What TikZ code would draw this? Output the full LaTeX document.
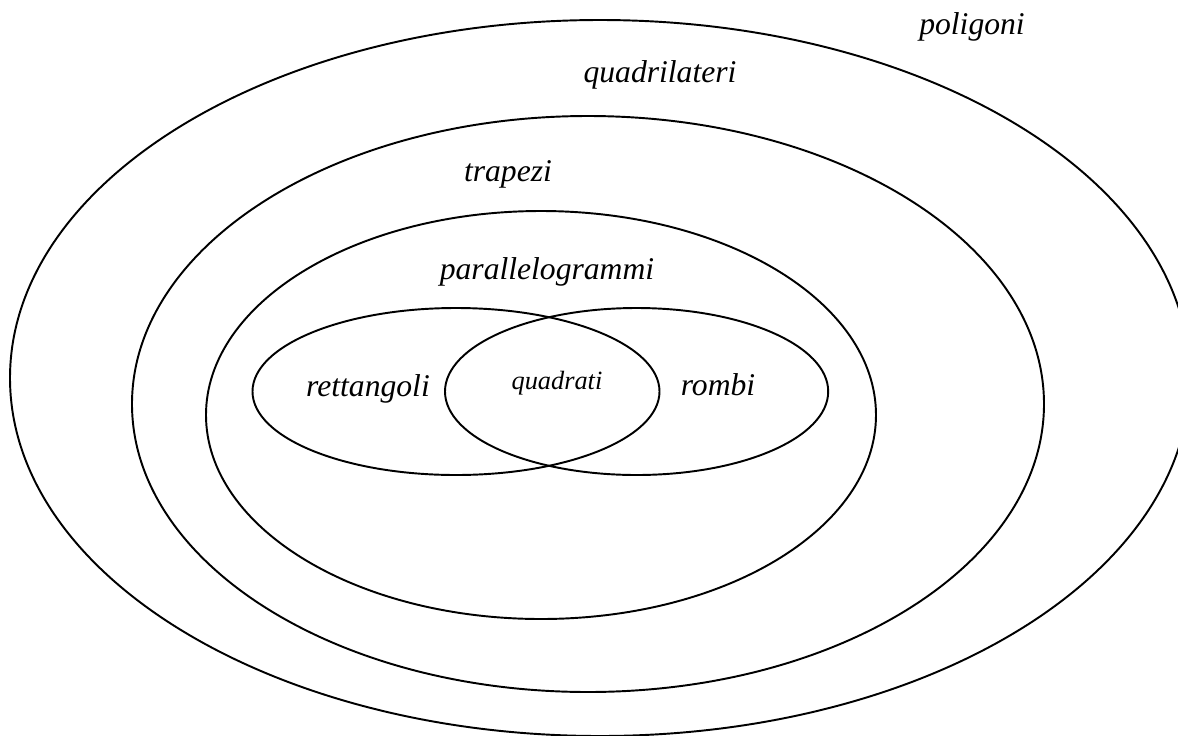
\documentclass[tikz,border=0pt]{standalone}
\usepackage{fontspec}
\setmainfont{Liberation Serif}
\tikzset{
  lab/.style={font=\itshape\fontsize{18}{22}\selectfont, anchor=base, inner sep=0pt},
  smalllab/.style={font=\itshape\fontsize{15}{18}\selectfont, anchor=base, inner sep=0pt}
}
\begin{document}
\begin{tikzpicture}[x=0.02cm,y=-0.02cm,line width=1.1pt]
  \useasboundingbox (0,0) rectangle (1178,735);
  \clip (0,0) rectangle (1178,735);
  \draw(600,378) ellipse (590 and 358);
  \draw(588,404) ellipse (456 and 288);
  \draw(541,415) ellipse (335 and 204);
  \draw(456,391.5) ellipse (203.5 and 83.5);
  \draw(636.6,391.5) ellipse (191.6 and 83.5);
  \node[lab] (poligoni) at (972,34.5) {poligoni};
  \node[lab] (quadrilateri) at (660,82.7) {quadrilateri};
  \node[lab] (trapezi) at (508,181) {trapezi};
  \node[lab] (parallelogrammi) at (547,279) {parallelogrammi};
  \node[lab] (rettangoli) at (368,396) {rettangoli};
  \node[smalllab] (quadrati) at (557,389) {quadrati};
  \node[lab] (rombi) at (718,395) {rombi};
\end{tikzpicture}
\end{document}
